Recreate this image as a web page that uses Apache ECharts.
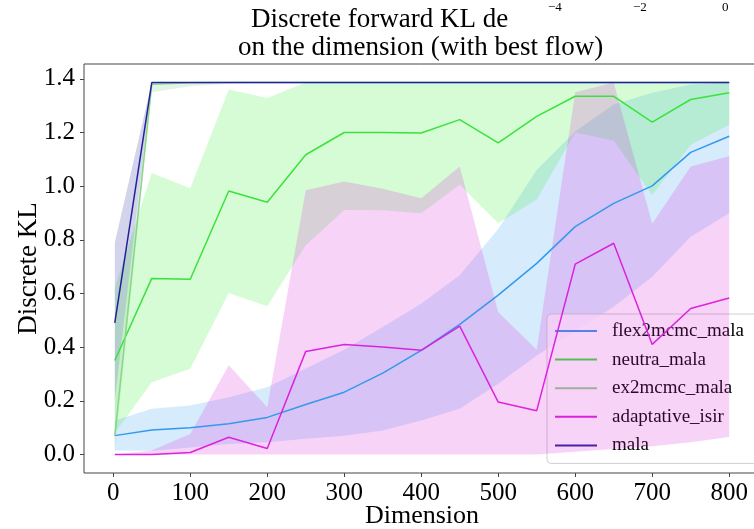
<!DOCTYPE html>
<html>
<head>
<meta charset="utf-8">
<script src="https://cdn.jsdelivr.net/npm/echarts@6/dist/echarts.min.js"></script>
<style>
  html, body { margin: 0; padding: 0; background: #fff; }
  #chart { width: 754px; height: 529px; }
</style>
</head>
<body>
<div id="chart"></div>
<script>
// ====== Discrete forward KL vs dimension ======
var dims = [2, 50, 100, 150, 200, 250, 300, 350, 400, 450, 500, 550, 600, 650, 700, 750, 800];
var xTicks = [0, 100, 200, 300, 400, 500, 600, 700, 800];
var yTicks = [0, 0.2, 0.4, 0.6, 0.8, 1.0, 1.2, 1.4];

// flex2mcmc_mala
var flexMean = [0.07, 0.091, 0.099, 0.114, 0.138, 0.186, 0.232, 0.303, 0.388, 0.485, 0.594, 0.712, 0.849, 0.936, 1.001, 1.126, 1.186];
var flexLow  = [0.015, 0.014, 0.026, 0.039, 0.045, 0.058, 0.07, 0.089, 0.126, 0.17, 0.263, 0.369, 0.46, 0.55, 0.662, 0.811, 0.899];
var flexHigh = [0.126, 0.17, 0.182, 0.213, 0.25, 0.32, 0.39, 0.475, 0.562, 0.668, 0.84, 1.06, 1.204, 1.304, 1.348, 1.379, 1.386];

// neutra_mala
var neutraMean = [0.35, 0.656, 0.653, 0.982, 0.94, 1.117, 1.2, 1.2, 1.198, 1.248, 1.161, 1.26, 1.335, 1.335, 1.239, 1.323, 1.348];
var neutraLow  = [0.08, 0.269, 0.319, 0.602, 0.552, 0.78, 0.911, 0.91, 0.899, 1.005, 0.862, 0.95, 1.2, 1.17, 0.967, 1.154, 1.229];
var neutraHigh = [0.62, 1.049, 0.992, 1.36, 1.329, 1.386, 1.386, 1.386, 1.386, 1.386, 1.386, 1.386, 1.386, 1.386, 1.386, 1.386, 1.386];

// ex2mcmc_mala
var ex2Mean = [0.07, 1.38, 1.385, 1.386, 1.386, 1.386, 1.386, 1.386, 1.386, 1.386, 1.386, 1.386, 1.386, 1.386, 1.386, 1.386, 1.386];
var ex2Low  = [0.02, 1.35, 1.372, 1.382, 1.386, 1.386, 1.386, 1.386, 1.386, 1.386, 1.386, 1.386, 1.386, 1.386, 1.386, 1.386, 1.386];
var ex2High = [0.2, 1.386, 1.386, 1.386, 1.386, 1.386, 1.386, 1.386, 1.386, 1.386, 1.386, 1.386, 1.386, 1.386, 1.386, 1.386, 1.386];

// adaptative_isir
var isirMean = [0.0, 0.0, 0.007, 0.064, 0.022, 0.384, 0.41, 0.40, 0.388, 0.478, 0.195, 0.163, 0.709, 0.787, 0.41, 0.544, 0.583];
var isirLow  = [0, 0, 0, 0, 0, 0, 0, 0, 0, 0, 0, 0, 0.01, 0.02, 0.03, 0.045, 0.065];
var isirHigh = [0.0, 0.015, 0.076, 0.332, 0.176, 0.985, 1.017, 0.99, 0.955, 1.073, 0.53, 0.39, 1.35, 1.386, 0.86, 1.073, 1.111];

// mala
var malaMean = [0.49, 1.386, 1.386, 1.386, 1.386, 1.386, 1.386, 1.386, 1.386, 1.386, 1.386, 1.386, 1.386, 1.386, 1.386, 1.386, 1.386];
var malaLow  = [0.2, 1.386, 1.386, 1.386, 1.386, 1.386, 1.386, 1.386, 1.386, 1.386, 1.386, 1.386, 1.386, 1.386, 1.386, 1.386, 1.386];
var malaHigh = [0.79, 1.386, 1.386, 1.386, 1.386, 1.386, 1.386, 1.386, 1.386, 1.386, 1.386, 1.386, 1.386, 1.386, 1.386, 1.386, 1.386];

// tick labels of the neighbouring panel that show through above the title
var topTicks = ['\u22124', '\u22122', '0'];

var font = 'Liberation Serif';
var spine = '#444';

var methods = [
  { name: 'flex2mcmc_mala', color: '#3399ee', band: 'rgba(51,153,238,0.2)', mean: flexMean, low: flexLow, high: flexHigh },
  { name: 'neutra_mala', color: '#3be23b', band: 'rgba(51,238,51,0.2)', mean: neutraMean, low: neutraLow, high: neutraHigh },
  { name: 'ex2mcmc_mala', color: '#8ad68a', band: 'rgba(120,200,120,0.2)', mean: ex2Mean, low: ex2Low, high: ex2High },
  { name: 'adaptative_isir', color: '#dd22dd', band: 'rgba(221,34,221,0.2)', mean: isirMean, low: isirLow, high: isirHigh },
  { name: 'mala', color: '#22229a', band: 'rgba(34,34,154,0.2)', mean: malaMean, low: malaLow, high: malaHigh }
];

function pairs(vals) {
  return dims.map(function(d, i) { return [d, vals[i]]; });
}

function bandSeries(m, z) {
  return {
    type: 'custom',
    name: m.name + ' band',
    silent: true,
    z: z,
    data: [[dims[0], m.low[0]]],
    renderItem: function(params, api) {
      var pts = [];
      for (var i = 0; i < dims.length; i++) pts.push(api.coord([dims[i], m.high[i]]));
      for (var j = dims.length - 1; j >= 0; j--) pts.push(api.coord([dims[j], m.low[j]]));
      return { type: 'polygon', shape: { points: pts }, style: { fill: m.band } };
    }
  };
}

var series = [];
methods.forEach(function(m, k) {
  series.push(bandSeries(m, 1 + k));
});
methods.forEach(function(m, k) {
  series.push({
    name: m.name,
    type: 'line',
    data: pairs(m.mean),
    symbol: 'none',
    z: 10 + k,
    lineStyle: { color: m.color, width: 1.5 },
    itemStyle: { color: m.color }
  });
});

var titleStyle = { fontFamily: font, fontSize: 27, fontWeight: 'normal', color: '#000' };
var smallStyle = { fontFamily: font, fontSize: 13, fontWeight: 'normal', color: '#000' };
var topTickLeft = [548, 633, 722];

var titles = [
  { text: 'Discrete forward KL de', left: 251, top: 6, padding: 0, textStyle: titleStyle },
  { text: 'on the dimension (with best flow)', left: 238, top: 34, padding: 0, textStyle: titleStyle }
];
topTicks.forEach(function(t, i) {
  titles.push({ text: t, left: topTickLeft[i], top: 1, padding: 0, textStyle: smallStyle });
});

var chart = echarts.init(document.getElementById('chart'), null, { renderer: 'canvas' });

chart.setOption({
  animation: false,
  backgroundColor: '#fff',
  title: titles,
  legend: {
    data: methods.map(function(m) { return { name: m.name, itemStyle: { color: m.color } }; }),
    orient: 'vertical',
    left: 547,
    top: 314,
    padding: [6, 30, 7, 8],
    icon: 'rect',
    itemWidth: 42,
    itemHeight: 2,
    itemGap: 6.6,
    backgroundColor: 'rgba(255,255,255,0.8)',
    borderColor: '#d0d0d0',
    borderWidth: 1,
    borderRadius: 4,
    textStyle: { fontFamily: font, fontSize: 19, color: '#000', lineHeight: 22, padding: [0, 0, 0, 10] }
  },
  grid: {
    left: 84, top: 64, right: -6, bottom: 56,
    outerBoundsMode: 'none',
    containLabel: false,
    show: true, borderColor: spine, borderWidth: 1, backgroundColor: 'transparent'
  },
  xAxis: {
    type: 'value',
    min: -38, max: 840,
    name: 'Dimension',
    nameLocation: 'middle',
    nameGap: 30,
    nameMoveOverlap: false,
    nameTextStyle: { fontFamily: font, fontSize: 26, color: '#000', verticalAlign: 'top' },
    axisLine: { show: false, onZero: false },
    axisTick: { show: true, length: 4, customValues: xTicks, lineStyle: { color: spine } },
    axisLabel: { customValues: xTicks, fontFamily: font, fontSize: 25, color: '#000', margin: 8 },
    splitLine: { show: false }
  },
  yAxis: {
    type: 'value',
    min: -0.0693, max: 1.4553,
    name: 'Discrete KL',
    nameLocation: 'middle',
    nameGap: 42,
    nameMoveOverlap: false,
    nameTextStyle: { fontFamily: font, fontSize: 27, color: '#000' },
    axisLine: { show: false, onZero: false },
    axisTick: { show: true, length: 4, customValues: yTicks, lineStyle: { color: spine } },
    axisLabel: {
      customValues: yTicks, fontFamily: font, fontSize: 25, color: '#000', margin: 9,
      formatter: function(v) { return v.toFixed(1); }
    },
    splitLine: { show: false }
  },
  series: series
});
</script>
</body>
</html>
